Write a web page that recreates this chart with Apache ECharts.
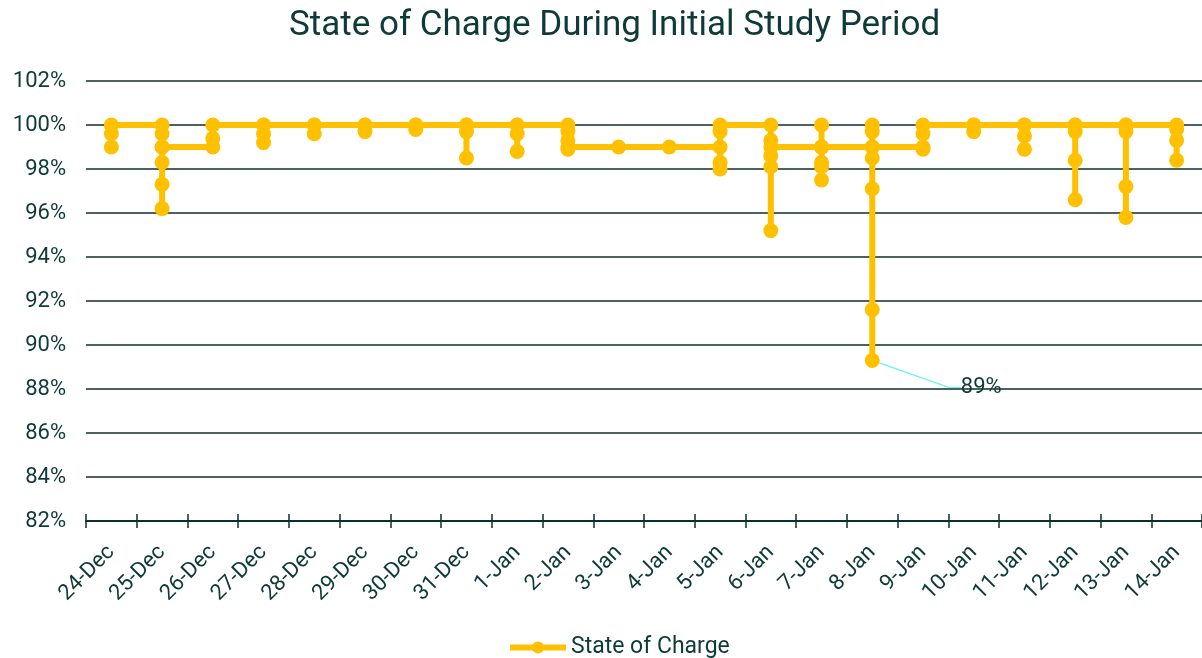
<!DOCTYPE html>
<html>
<head>
    <meta charset="utf-8">
    <title>State of Charge</title>
    <script src="https://cdn.jsdelivr.net/npm/echarts@6/dist/echarts.min.js"></script>
    <style>
        html, body { margin: 0; padding: 0; background: #fff; }
        #main { width: 1202px; height: 658px; }
    </style>
</head>
<body>
<div id="main"></div>
<script>
    // dates on the x axis
    var dates = ['24-Dec', '25-Dec', '26-Dec', '27-Dec', '28-Dec', '29-Dec', '30-Dec', '31-Dec',
        '1-Jan', '2-Jan', '3-Jan', '4-Jan', '5-Jan', '6-Jan', '7-Jan', '8-Jan', '9-Jan',
        '10-Jan', '11-Jan', '12-Jan', '13-Jan', '14-Jan'];

    // state of charge readings (%) for each day, in time order
    var readings = [
        [99.0, 99.6, 100],
        [100, 99.6, 99.0, 98.3, 97.3, 96.2, 99.0],
        [99.0, 99.4, 100],
        [100, 99.6, 99.2, 100],
        [100, 99.6, 100],
        [100, 99.7, 100],
        [100, 99.8, 100],
        [100, 99.7, 98.5, 100],
        [100, 99.6, 98.8, 100],
        [100, 99.7, 99.3, 98.9, 99.0],
        [99.0],
        [99.0],
        [99.0, 98.3, 98.0, 99.7, 100],
        [100, 99.3, 98.6, 98.1, 95.2, 99.0],
        [99.0, 100, 99.0, 98.3, 98.1, 97.5, 99.0],
        [99.0, 100, 99.7, 98.5, 97.1, 91.6, 89.3, 99.0],
        [99.0, 98.9, 99.6, 100],
        [100, 99.7, 100],
        [100, 99.5, 98.9, 100],
        [100, 99.7, 98.4, 96.6, 100],
        [100, 99.7, 97.2, 95.8, 100],
        [100, 99.8, 99.3, 98.4]
    ];

    var yTicks = { min: 82, max: 102, step: 2 };

    var textColor = '#0e3b37';
    var lineColor = '#0e2f2c';
    var yellow = '#ffc000';

    // flatten readings into [date, value] points, label the lowest one
    var points = [];
    var lowest = Infinity;
    for (var i = 0; i < readings.length; i++) {
        for (var j = 0; j < readings[i].length; j++) {
            lowest = Math.min(lowest, readings[i][j]);
        }
    }
    for (var i = 0; i < readings.length; i++) {
        for (var j = 0; j < readings[i].length; j++) {
            var v = readings[i][j];
            if (v === lowest) {
                points.push({
                    value: [dates[i], v],
                    label: {
                        show: true,
                        position: 'right',
                        formatter: Math.round(v) + '%',
                        fontSize: 22,
                        color: textColor,
                        fontFamily: 'Roboto'
                    },
                    labelLine: {
                        show: true,
                        length2: 12,
                        lineStyle: { color: '#6ef2f2', width: 1.3 }
                    }
                });
            } else {
                points.push([dates[i], v]);
            }
        }
    }

    var myChart = echarts.init(document.getElementById('main'));
    var option = {
        animation: false,
        textStyle: { fontFamily: 'Roboto', color: textColor },
        title: {
            text: 'State of Charge During Initial Study Period',
            left: 284,
            top: 4,
            textStyle: { fontSize: 35, fontWeight: 'normal', color: textColor, fontFamily: 'Roboto' }
        },
        legend: {
            bottom: -6,
            left: 502,
            itemWidth: 56,
            itemHeight: 15,
            itemGap: 4,
            lineStyle: { width: 6, color: yellow },
            textStyle: { fontSize: 23, color: textColor },
            data: ['State of Charge']
        },
        grid: {
            left: 86,
            right: -5,
            top: 81,
            bottom: 137
        },
        xAxis: [{
            type: 'category',
            data: dates,
            boundaryGap: true,
            axisLine: { lineStyle: { color: lineColor, width: 2 } },
            axisTick: { show: true, length: 7, lineStyle: { color: lineColor, width: 1.5 } },
            axisLabel: { interval: 0, rotate: 45, fontSize: 22, color: textColor, margin: 28 },
            splitLine: { show: false }
        }, {
            type: 'category',
            data: dates,
            position: 'bottom',
            boundaryGap: true,
            axisLine: { show: false },
            axisTick: { show: true, inside: true, length: 7, lineStyle: { color: lineColor, width: 1.5 } },
            axisLabel: { show: false }
        }],
        yAxis: {
            type: 'value',
            min: yTicks.min,
            max: yTicks.max,
            interval: yTicks.step,
            axisLine: { show: false },
            axisTick: { show: false },
            axisLabel: { formatter: '{value}%', fontSize: 22, color: textColor, margin: 20 },
            splitLine: { lineStyle: { color: lineColor, width: 1.5 } }
        },
        series: [{
            name: 'State of Charge',
            type: 'line',
            data: points,
            symbol: 'circle',
            symbolSize: 15,
            lineStyle: { color: yellow, width: 6 },
            itemStyle: { color: yellow },
            labelLayout: function (params) {
                return { dx: 76, dy: 27 };
            }
        }]
    };
    myChart.setOption(option);
</script>
</body>
</html>
